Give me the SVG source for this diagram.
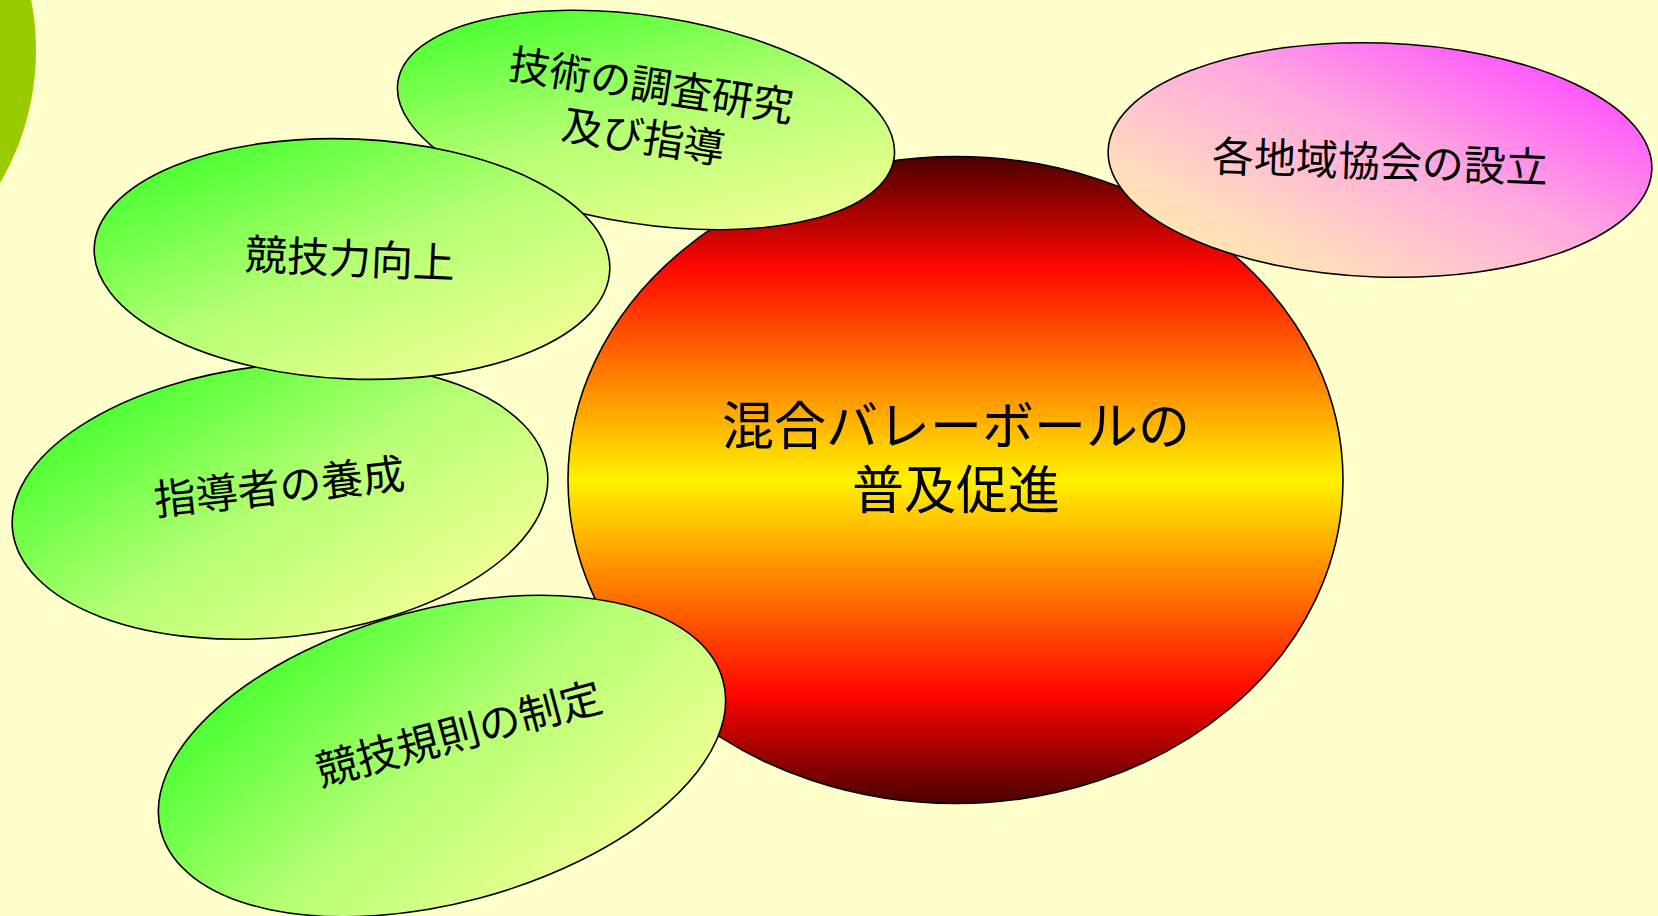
<svg xmlns="http://www.w3.org/2000/svg" width="1658" height="916" viewBox="0 0 1658 916">
<style>
.node{stroke:#000;stroke-width:1.6}
.t{font-family:"Noto Sans CJK JP","Noto Sans CJK SC",sans-serif;fill:#000;text-anchor:middle;font-size:42px}
.tm{font-size:52px}
</style>
<defs>
<linearGradient id="gGreen" x1="0" y1="0" x2="1" y2="1">
<stop offset="0.1" stop-color="#42ff2c"/>
<stop offset="0.5" stop-color="#b4ff72"/>
<stop offset="0.9" stop-color="#f4ff98"/>
</linearGradient>
<linearGradient id="gPink" x1="1" y1="0" x2="0" y2="1">
<stop offset="0.1" stop-color="#ff4dff"/>
<stop offset="0.45" stop-color="#ffa8e0"/>
<stop offset="0.75" stop-color="#ffd8c0"/>
<stop offset="1" stop-color="#fff6a0"/>
</linearGradient>
<linearGradient id="gCore" x1="0" y1="0" x2="0" y2="1">
<stop offset="0" stop-color="#4a0000"/>
<stop offset="0.17" stop-color="#ff0600"/>
<stop offset="0.5" stop-color="#fff200"/>
<stop offset="0.83" stop-color="#ff0600"/>
<stop offset="1" stop-color="#4a0000"/>
</linearGradient>
</defs>
<rect width="1658" height="916" fill="#ffffcc"/>
<circle cx="-228" cy="50" r="264" fill="#99cc00"/>
<g id="connectors"></g>
<g id="core">
<ellipse class="node" cx="955.5" cy="480" rx="387.5" ry="323.5" fill="url(#gCore)"/>
<text class="t tm"><tspan x="956" y="445">混合バレーボールの</tspan><tspan x="956" y="509">普及促進</tspan></text>
</g>
<g id="node-research" transform="rotate(8.8 646 120)">
<ellipse class="node" cx="646" cy="120" rx="251" ry="104" fill="url(#gGreen)"/>
<text class="t" style="font-size:41px"><tspan x="646" y="100">技術の調査研究</tspan><tspan x="646" y="152">及び指導</tspan></text>
</g>
<g id="node-leaders" transform="rotate(-6.2 280 501)">
<ellipse class="node" cx="280" cy="501" rx="269" ry="136" fill="url(#gGreen)"/>
<text class="t" x="281" y="502">指導者の養成</text>
</g>
<g id="node-skill" transform="rotate(2.5 352 259)">
<ellipse class="node" cx="352" cy="259" rx="258" ry="120" fill="url(#gGreen)"/>
<text class="t" x="350" y="274">競技力向上</text>
</g>
<g id="node-rules" transform="rotate(-15 442 756)">
<ellipse class="node" cx="442" cy="756" rx="291" ry="147" fill="url(#gGreen)"/>
<text class="t" x="464" y="754">競技規則の制定</text>
</g>
<g id="node-regions" transform="rotate(2 1380 160)">
<ellipse class="node" cx="1380" cy="160" rx="272" ry="117" fill="url(#gPink)"/>
<text class="t" x="1380" y="177">各地域協会の設立</text>
</g>
</svg>
